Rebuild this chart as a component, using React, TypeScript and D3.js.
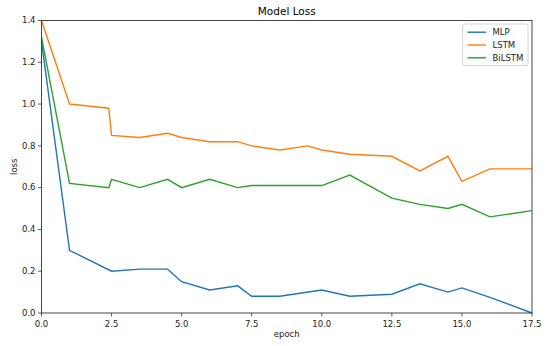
import React from 'react';
import * as d3 from 'd3';

const seriesNames = ['MLP', 'LSTM', 'BiLSTM'];
const colors = ['#1f77b4', '#ff7f0e', '#2ca02c'];

const mlpEpochs = [0, 1, 2.5, 3.5, 4.5, 5, 6, 7, 7.5, 8.5, 10, 11, 12.5, 13.5, 14.5, 15, 16, 17.5];
const mlpLoss = [1.3, 0.3, 0.2, 0.21, 0.21, 0.15, 0.11, 0.13, 0.08, 0.08, 0.11, 0.08, 0.09, 0.14, 0.1, 0.12, 0.075, 0.0];

const lstmEpochs = [0, 1, 2.4, 2.5, 3.5, 4.5, 5, 6, 7, 7.5, 8.5, 9.5, 10, 11, 12.5, 13.5, 14.5, 15, 16, 17.5];
const lstmLoss = [1.4, 1.0, 0.98, 0.85, 0.84, 0.86, 0.84, 0.82, 0.82, 0.8, 0.78, 0.8, 0.78, 0.76, 0.75, 0.68, 0.75, 0.63, 0.69, 0.69];

const bilstmEpochs = [0, 1, 2.4, 2.5, 3.5, 4.5, 5, 6, 7, 7.5, 8.5, 10, 11, 12.5, 13.5, 14.5, 15, 16, 17.5];
const bilstmLoss = [1.32, 0.62, 0.6, 0.64, 0.6, 0.64, 0.6, 0.64, 0.6, 0.61, 0.61, 0.61, 0.66, 0.55, 0.52, 0.5, 0.52, 0.46, 0.49];

const xTicks = [0, 2.5, 5, 7.5, 10, 12.5, 15, 17.5];
const yTicks = [0, 0.2, 0.4, 0.6, 0.8, 1.0, 1.2, 1.4];

const W = 550;
const H = 346;
const margin = { top: 20.5, right: 18, bottom: 33, left: 41.5 };
const font = 'DejaVu Sans, sans-serif';

export default function App() {
  const innerW = W - margin.left - margin.right;
  const innerH = H - margin.top - margin.bottom;

  const x = d3.scaleLinear().domain([0, 17.5]).range([0, innerW]);
  const y = d3.scaleLinear().domain([0, 1.4]).range([innerH, 0]);

  const line = d3.line<[number, number]>()
    .x(d => x(d[0]))
    .y(d => y(d[1]));

  const series = [
    mlpEpochs.map((e, i) => [e, mlpLoss[i]] as [number, number]),
    lstmEpochs.map((e, i) => [e, lstmLoss[i]] as [number, number]),
    bilstmEpochs.map((e, i) => [e, bilstmLoss[i]] as [number, number]),
  ];

  // legend box, upper right
  const legendX = innerW - 69.5;
  const legendY = 3.5;

  return (
    <svg width={W} height={H} style={{ position: 'absolute', left: 0, top: 0, background: '#fff' }}>
      <text x={margin.left + innerW / 2} y={15} textAnchor="middle" fontFamily={font} fontSize={10.5} fill="#000">
        Model Loss
      </text>
      <g transform={`translate(${margin.left},${margin.top})`}>
        {series.map((s, i) => (
          <path key={seriesNames[i]} d={line(s) || ''} fill="none" stroke={colors[i]} strokeWidth={1.4} />
        ))}
        <rect x={0} y={0} width={innerW} height={innerH} fill="none" stroke="#333" strokeWidth={0.9} />
        {xTicks.map(t => (
          <g key={'x' + t} transform={`translate(${x(t)},${innerH})`}>
            <line y2={3.5} stroke="#333" strokeWidth={0.8} />
            <text y={13.8} textAnchor="middle" fontFamily={font} fontSize={8.5} fill="#222">
              {t.toFixed(1)}
            </text>
          </g>
        ))}
        {yTicks.map(t => (
          <g key={'y' + t} transform={`translate(0,${y(t)})`}>
            <line x2={-3.5} stroke="#333" strokeWidth={0.8} />
            <text x={-6} dy="0.32em" textAnchor="end" fontFamily={font} fontSize={8.5} fill="#222">
              {t.toFixed(1)}
            </text>
          </g>
        ))}
        <text x={innerW / 2} y={innerH + 24} textAnchor="middle" fontFamily={font} fontSize={8.5} fill="#222">
          epoch
        </text>
        <text transform={`translate(${-24.2},${innerH / 2}) rotate(-90)`} textAnchor="middle" fontFamily={font} fontSize={8.5} fill="#222">
          loss
        </text>
        <g transform={`translate(${legendX},${legendY})`}>
          <rect x={0} y={0} width={65.5} height={41.5} rx={2} fill="#fff" fillOpacity={0.8} stroke="#ccc" strokeWidth={0.8} />
          {seriesNames.map((n, i) => (
            <g key={n} transform={`translate(0,${8.2 + i * 12.8})`}>
              <line x1={5} x2={23.5} stroke={colors[i]} strokeWidth={1.4} />
              <text x={30} dy="0.35em" fontFamily={font} fontSize={8.5} fill="#222">
                {n}
              </text>
            </g>
          ))}
        </g>
      </g>
    </svg>
  );
}
